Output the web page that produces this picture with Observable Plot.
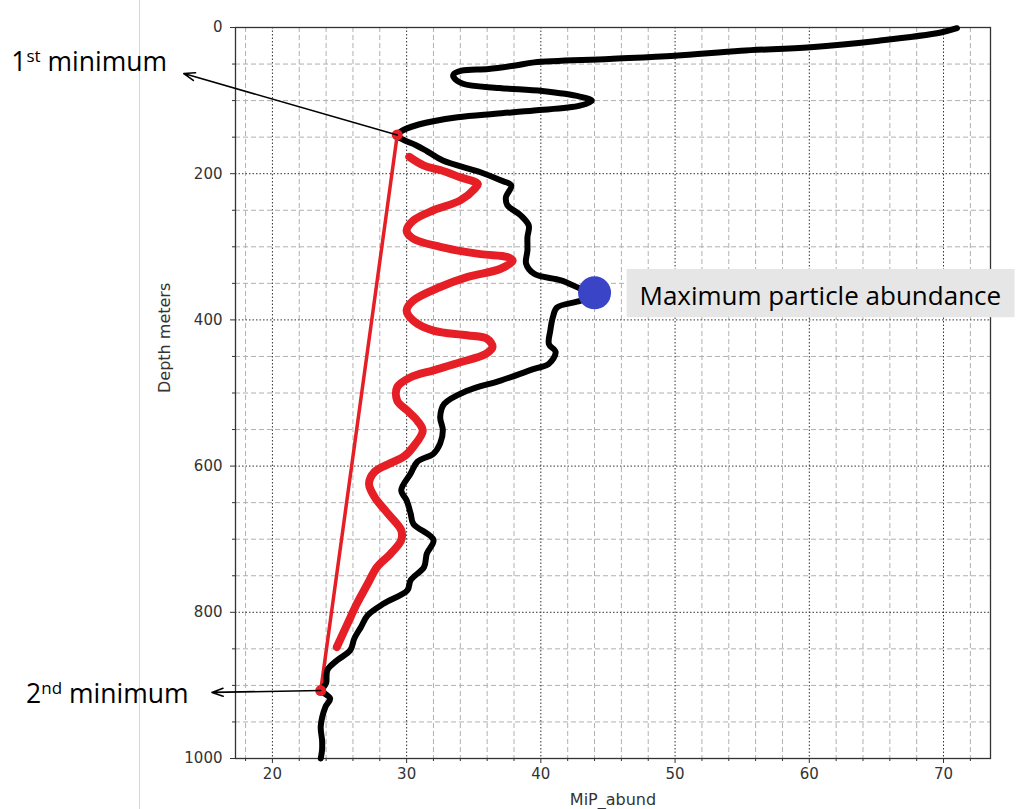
<!DOCTYPE html>
<html><head><meta charset="utf-8">
<script src="https://cdn.jsdelivr.net/npm/d3@7"></script>
<script src="https://cdn.jsdelivr.net/npm/@observablehq/plot@0.6"></script>
<style>
body{margin:0;background:#fff;}
#wrap{position:relative;width:1020px;height:809px;overflow:hidden;}
#edge{position:absolute;left:139px;top:0;width:1px;height:809px;background:#d6d6d6;}
#wrap svg{position:absolute;left:0;top:0;}
</style></head><body><div id="wrap"><div id="edge"></div></div>
<script>
// Black profile: MiP abundance vs depth
const blackX = [71.0,69.8,65.2,60.1,54.9,50.0,45.1,39.5,38.1,36.1,34.1,33.5,33.5,34.2,36.9,40.1,42.9,43.8,42.9,39.5,36.6,33.8,30.9,29.5,29.3,29.8,30.7,31.5,32.7,35.5,37.0,37.8,37.4,37.5,38.5,39.1,39.0,39.0,38.9,39.5,41.5,43.0,44.0,43.0,41.2,40.9,40.7,40.6,41.1,40.6,39.5,37.0,34.5,32.8,32.5,32.7,32.5,32.0,30.8,30.3,29.6,30.0,30.3,30.5,32.0,31.5,31.3,30.3,30.05,28.3,27.1,26.6,26.1,25.8,24.8,24.1,24.0,23.7,24.3,23.96,23.6,23.7,23.7,23.6];
const blackY = [1,6.8,18,27,31.8,38.6,43,47.7,52,56.8,59,64,68,77,82.7,87,94.5,100,107,113.6,118,122.7,132.7,143,148,154,161,169,182,198,209,216,232,243,257,271,287,305,323,337,346,357.5,363.5,373.5,383,396,415,433,444,460,467,483,497,515,533,551,569,583,594,610,633,647,665,679,701,720,738,756,770,788,804,820,836,852,866,879,897,907,918,929,956,975,988,1000];
// Red wavy sketch
const waveX = [30.2,31.3,32.5,34.0,35.3,35.1,34.0,32.0,30.5,30.0,30.5,32.5,35.5,37.5,37.9,37.0,34.5,32.5,30.5,30.0,30.5,32.0,34.5,36.0,36.4,35.9,34.0,32.0,30.3,29.3,29.3,30.05,30.8,31.2,30.5,29.8,28.8,27.6,27.2,27.6,28.6,29.6,29.6,28.8,27.8,27.1,26.3,25.6,24.8];
const waveY = [177,189,195,205,214,220,236.5,250,264,278,289,300,310,314,319,330,341.5,355,373.5,387,401,414.6,421,426,437,446.6,458,469,478.5,492,510.5,524,538,551.6,573.5,587,596,608,624,642,665,688,701,720,738,761,788,815.5,847.5];
// Minima and the line joining them
const minX = [29.3, 23.6];
const minY = [147, 907];
const minLabels = ["1st minimum", "2nd minimum"];
const minLabelX = [0.55, 1.65];
const minLabelY = [48.5, 913];
const arrowTipX = [13.4, 15.5];
const arrowTipY = [63, 909.6];
// Maximum
const peakX = [44.0];
const peakY = [363];
const peakLabel = ["Maximum particle abundance"];
const peakLabelX = [47.35];
const peakLabelY = [368.5];
const peakBoxX1 = [46.43], peakBoxX2 = [75.33], peakBoxY1 = [331], peakBoxY2 = [397];
// Ticks
const xMajor = [20,30,40,50,60,70];
const xMinor = [18,22,24,26,28,32,34,36,38,42,44,46,48,52,54,56,58,62,64,66,68,72];
const yMajor = [0,200,400,600,800,1000];
const yMinor = [50,100,150,250,300,350,450,500,550,650,700,750,850,900,950];

const black = blackX.map((x,i)=>({x, y: blackY[i]}));
const wave = waveX.map((x,i)=>({x, y: waveY[i]}));
const mins = minX.map((x,i)=>({x, y: minY[i]}));
const RED = "#e61e25";

const plot = Plot.plot({
  width:1020, height:809,
  marginLeft:235, marginRight:30, marginTop:27, marginBottom:51,
  x:{domain:[17.25,73.5]},
  y:{domain:[0,1000], reverse:true},
  style:{background:"transparent", fontFamily:"DejaVu Sans", fontSize:"15px", color:"#333", overflow:"visible"},
  marks:[
    Plot.ruleX(xMinor,{stroke:"#b0b0b0", strokeDasharray:"5,3"}),
    Plot.ruleY(yMinor,{stroke:"#b0b0b0", strokeDasharray:"5,3"}),
    Plot.ruleX(xMajor,{stroke:"#333", strokeDasharray:"1.5,2"}),
    Plot.ruleY(yMajor.slice(1,-1),{stroke:"#333", strokeDasharray:"1.5,2"}),
    Plot.frame({stroke:"#333", strokeWidth:1.3}),
    Plot.axisX(xMajor,{tickSize:5, tickPadding:5, label:null, fontSize:15, tickFormat:d=>String(d)}),
    Plot.axisX(xMinor,{tickSize:3, tickFormat:()=>"", label:null}),
    Plot.axisY(yMajor,{tickSize:5, tickPadding:8, label:null, fontSize:15, tickFormat:d=>String(d)}),
    Plot.axisY(yMinor,{tickSize:3, tickFormat:()=>"", label:null}),
    Plot.text(["MiP_abund"],{frameAnchor:"bottom", dy:35, lineAnchor:"top", fontSize:16, fill:"#333"}),
    Plot.text(["Depth meters"],{frameAnchor:"left", dx:-71, rotate:-90, fontSize:16, fill:"#333"}),
    Plot.line(mins,{x:"x", y:"y", stroke:RED, strokeWidth:3.5}),
    Plot.line(wave,{x:"x", y:"y", stroke:RED, strokeWidth:8, curve:"catmull-rom", strokeLinecap:"round"}),
    Plot.line(black,{x:"x", y:"y", stroke:"#000", strokeWidth:6, curve:"catmull-rom", strokeLinejoin:"round", strokeLinecap:"round"}),
    Plot.dot(mins,{x:"x", y:"y", r:5.5, fill:RED}),
    Plot.arrow(minLabels,{x1:minX, y1:minY, x2:arrowTipX, y2:arrowTipY, stroke:"#000", strokeWidth:1.6, headLength:11, headAngle:40, inset:0}),
    Plot.text(minLabels,{x:minLabelX, y:minLabelY, textAnchor:"start", fontSize:26.5, fontFamily:"Open Sans", fill:"#000", className:"supnote"}),
    Plot.dot(peakX,{x:peakX, y:peakY, r:16.5, fill:"#3a44c6"}),
    Plot.rect(peakLabel,{x1:peakBoxX1, x2:peakBoxX2, y1:peakBoxY1, y2:peakBoxY2, fill:"#e6e6e6"}),
    Plot.text(peakLabel,{x:peakLabelX, y:peakLabelY, textAnchor:"start", fontSize:26, fontFamily:"Open Sans", fill:"#000"})
  ]
});
d3.select(plot).selectAll(".supnote text").each(function(){
  const t = this.textContent;
  const m = t.match(/^(\d)(st|nd|rd|th)(.*)$/);
  if (!m) return;
  const s = d3.select(this);
  s.text(null);
  s.append("tspan").text(m[1]);
  s.append("tspan").attr("dy", -9).attr("font-size", 17).text(m[2]);
  s.append("tspan").attr("dy", 9).text(m[3]);
});
document.getElementById("wrap").appendChild(plot);
</script></body></html>
